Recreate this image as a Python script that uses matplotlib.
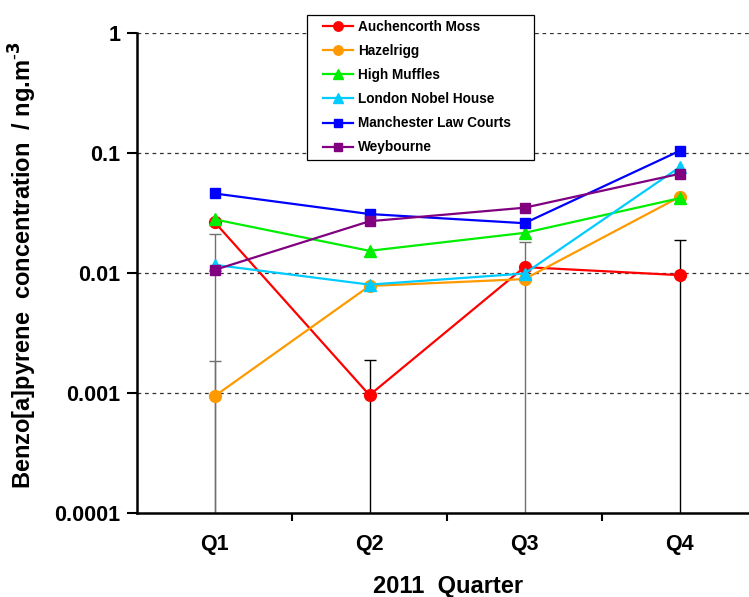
import matplotlib
matplotlib.use("Agg")
import matplotlib.pyplot as plt
from matplotlib.patches import Rectangle
from matplotlib.ticker import FixedLocator, NullFormatter

plt.rcParams['font.family'] = ['Liberation Sans', 'DejaVu Sans']

# data
quarters = ["Q1", "Q2", "Q3", "Q4"]
auchencorth = [0.0266, 0.00096, 0.0112, 0.0096]
hazelrigg = [0.00094, 0.0078, 0.0089, 0.043]
high_muffles = [0.028, 0.0153, 0.0216, 0.042]
london_nobel = [0.0117, 0.0080, 0.0099, 0.076]
manchester = [0.046, 0.031, 0.026, 0.104]
weybourne = [0.0106, 0.027, 0.035, 0.067]

# error bars (upper caps); lower ends run off the log axis
err_x = [1, 1, 2, 3, 4]
err_top = [0.0211, 0.00185, 0.00188, 0.0181, 0.019]
err_col = ["#707070", "#707070", "black", "#707070", "black"]

series = [
    ("Auchencorth Moss", auchencorth, "#FF0000", "o", 8.5),
    ("Hazelrigg", hazelrigg, "#FF9900", "o", 8.5),
    ("High Muffles", high_muffles, "#00EE00", "^", 8.5),
    ("London Nobel House", london_nobel, "#00CCFF", "^", 8.5),
    ("Manchester Law Courts", manchester, "#0000FF", "s", 7.5),
    ("Weybourne", weybourne, "#800080", "s", 7.5),
]

fig = plt.figure(figsize=(7.49, 5.97), dpi=100)
ax = fig.add_axes([137 / 749, 1 - 513 / 597, 620 / 749, 480 / 597])

x = [1, 2, 3, 4]
for xi, top, c in zip(err_x, err_top, err_col):
    ax.errorbar([xi], [top], yerr=[[top - 1e-6], [0]], fmt="none",
                ecolor=c, elinewidth=1.0, capsize=4, capthick=1.0, zorder=2)

for name, vals, col, mk, ms in series:
    ax.plot(x, vals, color=col, marker=mk, markersize=ms, linewidth=1.6,
            label=name, zorder=3)

ax.set_yscale("log")
ax.set_ylim(1e-4, 1)
ax.set_xlim(0.5, 4.5)
ax.set_yticks([1e-4, 1e-3, 1e-2, 1e-1, 1])
ax.set_yticklabels(["0.0001", "0.001", "0.01", "0.1", "1"])
ax.yaxis.set_minor_locator(FixedLocator([]))
ax.yaxis.set_minor_formatter(NullFormatter())
for yv in [1e-3, 1e-2, 1e-1, 1]:
    ax.axhline(yv, color="#333333", linestyle=(0, (3, 3)), linewidth=0.9, zorder=1)

ax.set_xticks(x)
ax.set_xticklabels(quarters)
ax.xaxis.set_minor_locator(FixedLocator([1.5, 2.5, 3.5]))
ax.tick_params(axis="x", which="major", length=0, pad=15)
ax.tick_params(axis="x", which="minor", length=6, width=1.5, direction="out")
ax.tick_params(axis="y", which="major", length=7, width=1.5, direction="out", pad=5)
for lab in ax.get_xticklabels() + ax.get_yticklabels():
    lab.set_fontsize(15.5)
    lab.set_fontweight("bold")

ax.spines["top"].set_visible(False)
ax.spines["right"].set_visible(False)
ax.spines["left"].set_linewidth(1.8)
ax.spines["bottom"].set_linewidth(1.8)

fig.text(448 / 749, 1 - 586 / 597, "2011  Quarter", fontsize=17, fontweight="bold",
         ha="center", va="center")
fig.text(23 / 749, 1 - 265 / 597,
         "Benzo[a]pyrene  concentration  / ng.m$^{\\mathbf{\\text{-}3}}$",
         rotation=90, fontsize=17, fontweight="bold", ha="center", va="center")

# legend box drawn separately so the padding matches the reference
ax.add_patch(Rectangle((307 / 749, 1 - 160 / 597), 227 / 749, 145 / 597,
                       transform=fig.transFigure, facecolor="white",
                       edgecolor="black", linewidth=0.9, zorder=4, clip_on=False))
leg = ax.legend(loc="upper left", bbox_to_anchor=(323 / 749, 1 - 20 / 597),
                bbox_transform=fig.transFigure, frameon=False,
                handlelength=2.2, labelspacing=0.74, borderpad=0,
                borderaxespad=0, handletextpad=0.35,
                prop={"weight": "bold", "size": 9.8}, markerscale=0.8)
leg.set_zorder(5)

fig.savefig("out.png", dpi=100)
